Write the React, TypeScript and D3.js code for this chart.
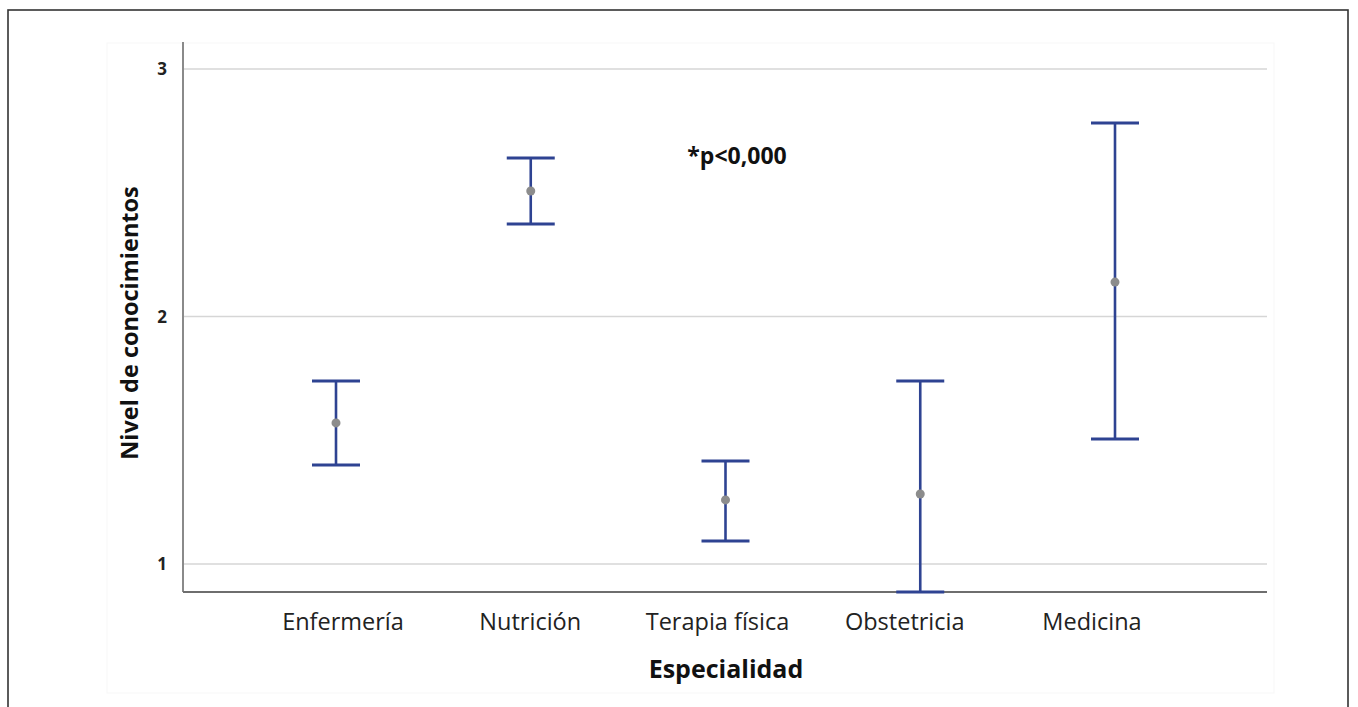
import React from "react";
import * as d3 from "d3";

const categories = ["Enfermería", "Nutrición", "Terapia física", "Obstetricia", "Medicina"];
const means = [1.57, 2.507, 1.259, 1.283, 2.139];
const upper = [1.739, 2.64, 1.416, 1.739, 2.782];
const lower = [1.4, 2.374, 1.093, 0.887, 1.505];
const yTicks = [1, 2, 3];
const yDomain = [0.887, 3.109];
const yTitle = "Nivel de conocimientos";
const xTitle = "Especialidad";
const note = "*p<0,000";

const W = 1358;
const H = 707;
const plot = { left: 183, right: 1267, top: 42, bottom: 592 };
const FONT = "'Open Sans', 'Noto Sans', sans-serif";
const BAR = "#2e4392";

export default function App() {
  const y = d3.scaleLinear().domain(yDomain).range([plot.bottom, plot.top]);
  const x = d3.scalePoint<string>().domain(categories).range([336, 1115]).padding(0);
  const xl = d3.scalePoint<string>().domain(categories).range([343, 1092]).padding(0);
  const capHalf = 24;

  return (
    <svg width={W} height={H} style={{ position: "absolute", left: 0, top: 0, background: "#fff" }}>
      {/* outer frame */}
      <rect x={8} y={10} width={1340} height={720} fill="none" stroke="#333" strokeWidth={1.6} />
      {/* faint image frame */}
      <rect x={107} y={43} width={1167} height={650} fill="none" stroke="#f7f7f7" strokeWidth={1} />

      {/* grid */}
      {yTicks.map((t) => (
        <line key={"g" + t} x1={plot.left} x2={plot.right} y1={y(t)} y2={y(t)} stroke="#d6d6d6" strokeWidth={1.5} />
      ))}
      {/* axes */}
      <line x1={plot.left} x2={plot.left} y1={plot.top} y2={plot.bottom} stroke="#8a8a8a" strokeWidth={2} />
      <line x1={plot.left} x2={plot.right} y1={plot.bottom} y2={plot.bottom} stroke="#6e6e6e" strokeWidth={2} />

      {/* y tick labels */}
      {yTicks.map((t) => (
        <text key={"t" + t} x={plot.left - 16} y={y(t)} dy="0.36em" textAnchor="end" fontFamily={FONT} fontWeight={700} fontSize={17} fill="#222">
          {t}
        </text>
      ))}

      {/* error bars */}
      {categories.map((c, i) => {
        const cx = x(c) as number;
        return (
          <g key={c}>
            <line x1={cx} x2={cx} y1={y(upper[i])} y2={y(lower[i])} stroke={BAR} strokeWidth={2.6} />
            <line x1={cx - capHalf} x2={cx + capHalf} y1={y(upper[i])} y2={y(upper[i])} stroke={BAR} strokeWidth={3} />
            <line x1={cx - capHalf} x2={cx + capHalf} y1={y(lower[i])} y2={y(lower[i])} stroke={BAR} strokeWidth={3} />
            <circle cx={cx} cy={y(means[i])} r={4.5} fill="#8c8c8c" />
          </g>
        );
      })}

      {/* x labels */}
      {categories.map((c) => (
        <text key={"l" + c} x={xl(c) as number} y={630} textAnchor="middle" fontFamily={FONT} fontSize={23.5} fill="#222">
          {c}
        </text>
      ))}

      {/* titles */}
      <text x={726} y={678} textAnchor="middle" fontFamily={FONT} fontWeight={700} fontSize={25} fill="#111">
        {xTitle}
      </text>
      <text transform={`translate(138,323) rotate(-90)`} textAnchor="middle" fontFamily={FONT} fontWeight={700} fontSize={23.5} fill="#111">
        {yTitle}
      </text>
      <text x={737} y={164} textAnchor="middle" fontFamily={FONT} fontWeight={700} fontSize={23} fill="#111">
        {note}
      </text>
    </svg>
  );
}
